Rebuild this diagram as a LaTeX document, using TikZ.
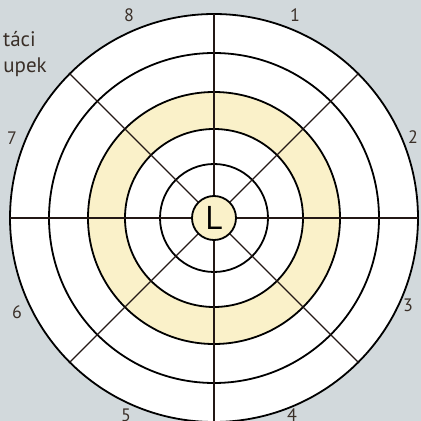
\documentclass[tikz,border=0pt]{standalone}
\usepackage{fontspec}
\setmainfont{PT Sans}
\definecolor{bggray}{RGB}{210,217,220}
\definecolor{ringyellow}{RGB}{250,241,201}
\definecolor{linebrown}{RGB}{35,24,21}
\definecolor{textbrown}{RGB}{58,47,40}

\begin{document}
\begin{tikzpicture}[x=1pt,y=1pt,
  ring/.style={draw=black,line width=1.8pt},
  spoke/.style={draw=linebrown,line width=1.4pt},
  sector/.style={text=textbrown,font=\fontsize{18}{20}\selectfont,inner sep=0pt}]
\useasboundingbox (0,0) rectangle (421,421);
\clip (0,0) rectangle (421,421);
\fill[bggray] (0,0) rectangle (421,421);
% target disc
\coordinate (c) at (214,203);
\fill[white] (c) circle (204);
\fill[ringyellow,even odd rule] (c) circle (126) (c) circle (89);
\foreach \r in {204,165,126,89,54}
  \draw[ring] (c) circle (\r);
\node[circle,ring,fill=ringyellow,minimum size=44pt,inner sep=0pt,
  font=\fontsize{33}{33}\selectfont] (L) at (c) {L};
% spokes
\foreach \a in {0,45,...,315} {
  \coordinate (o\a) at ([shift={(\a:204)}]c);
  \draw[spoke] (L.\a) -- (o\a);
}
% sector numbers
\node[sector] (n1) at (295,406) {1};
\node[sector] (n2) at (413,284) {2};
\node[sector] (n3) at (408,116) {3};
\node[sector] (n4) at (292,6) {4};
\node[sector] (n5) at (126,6) {5};
\node[sector] (n6) at (17,109) {6};
\node[sector] (n7) at (12,283) {7};
\node[sector] (n8) at (129,406) {8};
% cut text
\node[sector,anchor=base east,font=\fontsize{21}{24}\selectfont] (t1) at (36,374) {táci};
\node[sector,anchor=base east,font=\fontsize{21}{24}\selectfont] (t2) at (47,348) {upek};
\end{tikzpicture}
\end{document}
